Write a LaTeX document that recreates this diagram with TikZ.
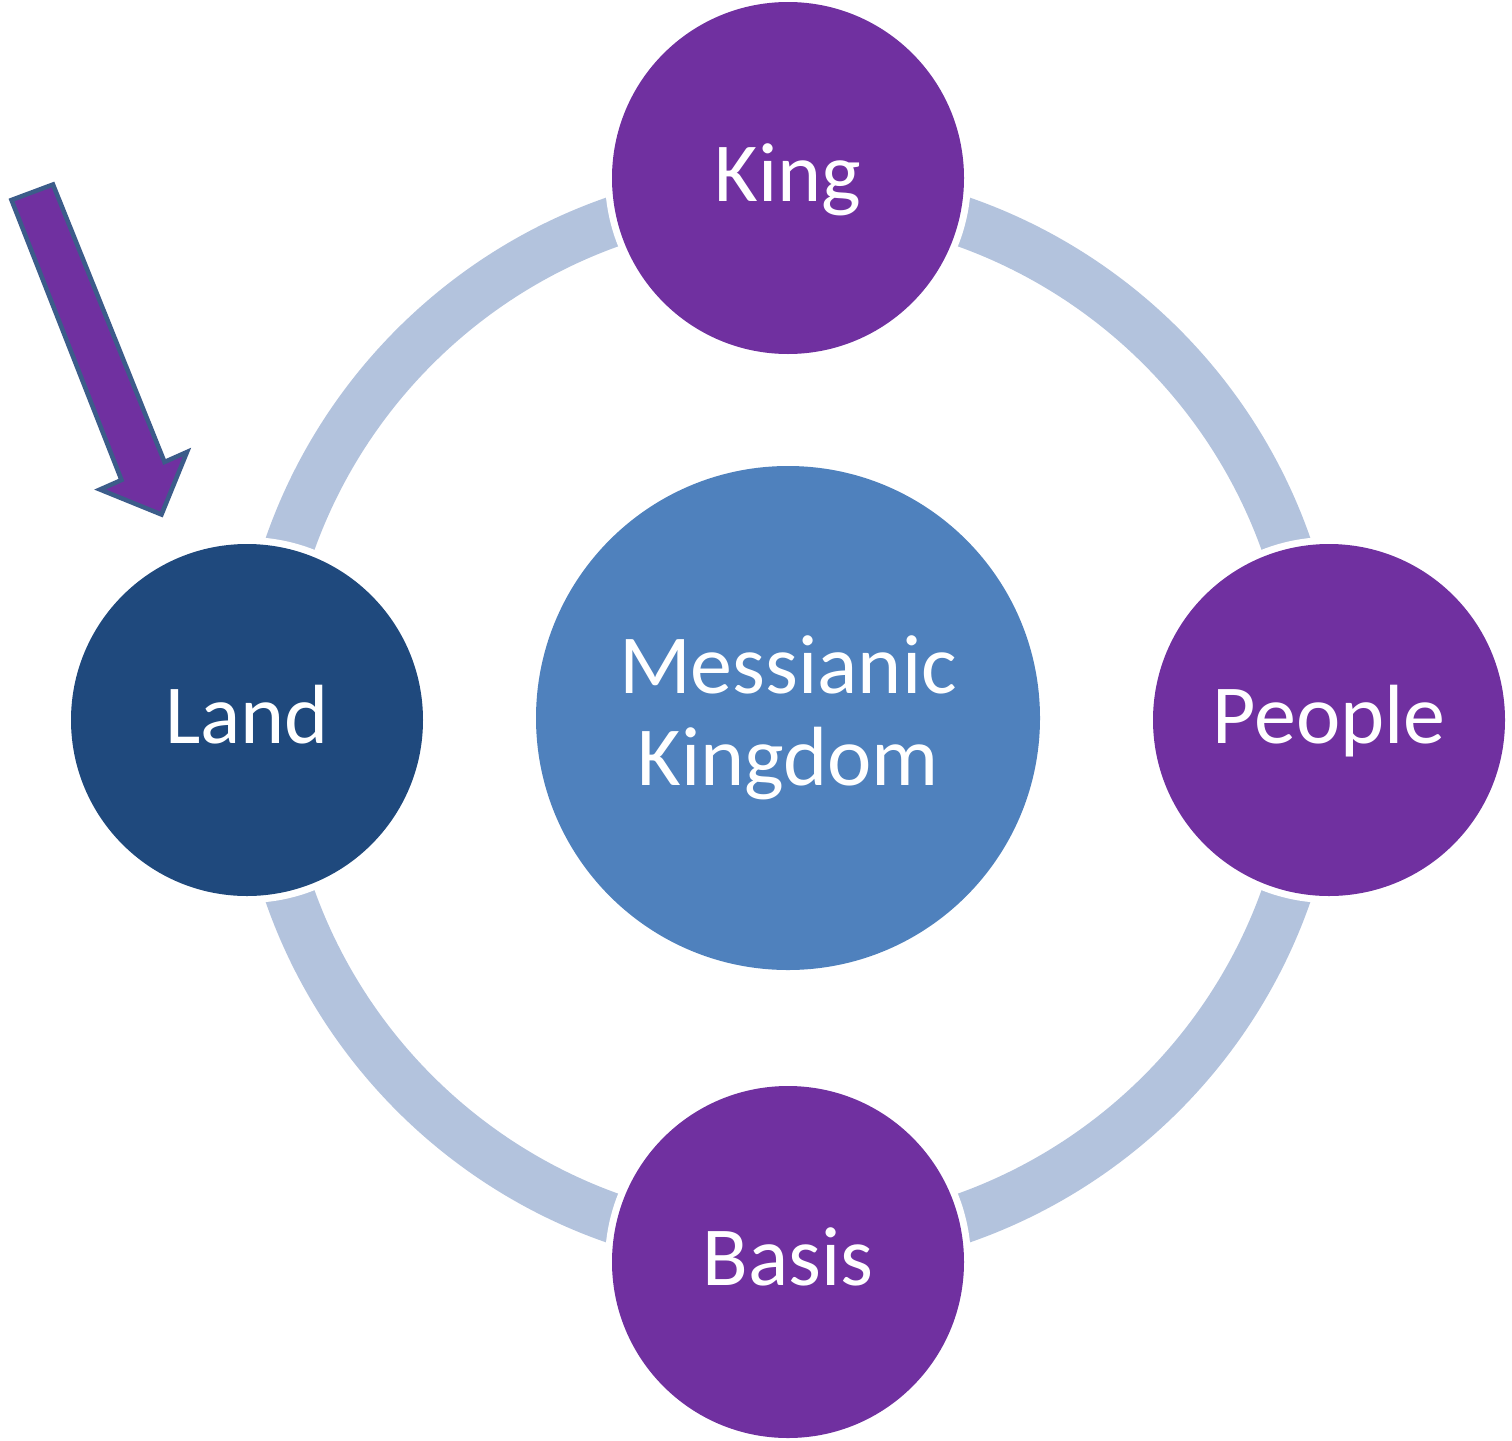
\documentclass[tikz,border=0pt]{standalone}
\usepackage{fontspec}
\setmainfont{Carlito}
\definecolor{ringc}{HTML}{B3C3DD}
\definecolor{purp}{HTML}{7030A0}
\definecolor{midblue}{HTML}{4F81BD}
\definecolor{darkblue}{HTML}{1F497D}
\definecolor{arrowedge}{HTML}{3C5C8A}
\tikzset{
  halo/.style={circle, fill=white, minimum size=366pt, inner sep=0pt},
  outernode/.style={circle, minimum size=352pt, inner sep=0pt, text=white,
    font=\fontsize{84}{92}\selectfont, text height=46pt, text depth=0pt},
  centernode/.style={circle, minimum size=504pt, inner sep=0pt, text=white, fill=midblue,
    align=center, font=\fontsize{84}{92}\selectfont},
  ringstyle/.style={draw=ringc, line width=50pt},
  blockarrow/.style={fill=purp, draw=arrowedge, line width=4.5pt, line join=miter}
}
\begin{document}
\begin{tikzpicture}[x=1pt,y=-1pt]
\useasboundingbox (0,0) rectangle (1512,1440);
% ring
\coordinate (c) at (788,720);
\draw[ringstyle] (c) circle[radius=528];
% halos
\node[halo] at (788,178) {};
\node[halo] at (1329,720) {};
\node[halo] at (788,1262) {};
\node[halo] at (247,720) {};
% nodes
\node[centernode] (mk) at (788,718) {Messianic\\Kingdom};
\node[outernode, fill=purp] (king) at (788,178) {King};
\node[outernode, fill=purp] (people) at (1329,720) {People};
\node[outernode, fill=purp] (basis) at (788,1262) {Basis};
\node[outernode, fill=darkblue] (land) at (247,720) {Land};
% block arrow
\draw[blockarrow] (11.5,200) -- (53,184.5) -- (164.5,462) -- (187,452) -- (161.5,514.5) -- (100,489.5) -- (121.5,480) -- cycle;
\end{tikzpicture}
\end{document}
